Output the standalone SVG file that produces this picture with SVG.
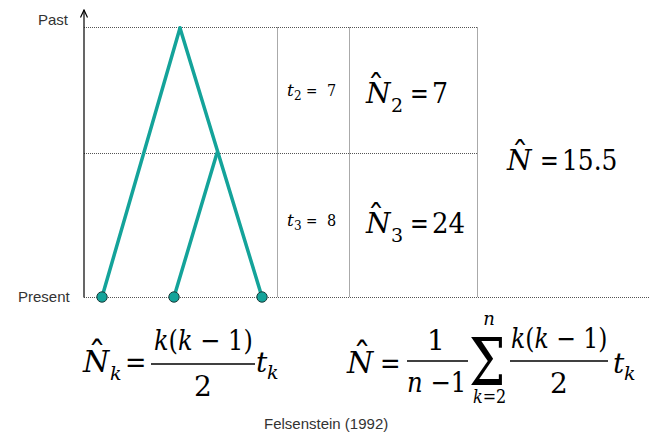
<svg xmlns="http://www.w3.org/2000/svg" width="650" height="435" viewBox="0 0 650 435">
<style>
.sans{font-family:"Liberation Sans",Arial,sans-serif;fill:#333;}
.i{font-style:italic;}
.grid{stroke:#555;stroke-width:1;stroke-dasharray:1 1;fill:none;}
.branch{stroke:#14a39a;stroke-width:3.5;stroke-linecap:round;fill:none;}
.leaf{fill:#14a39a;stroke:#1c3d3b;stroke-width:1;}
.bar{stroke:#000;stroke-width:1.3;}
</style>
<defs>
<marker id="arr" markerWidth="10" markerHeight="10" refX="9" refY="5" orient="auto" markerUnits="userSpaceOnUse" viewBox="0 0 10 10">
<path d="M1.5,1.5 L9,5 L1.5,8.5" fill="none" stroke="#000" stroke-width="1.2"/>
</marker>
</defs>
<rect width="650" height="435" fill="#fff"/>

<g id="grid">
<line class="grid" x1="84" y1="27.5" x2="477.5" y2="27.5"/>
<line class="grid" x1="84" y1="153.5" x2="477.5" y2="153.5"/>
<line class="grid" x1="84" y1="297.5" x2="650" y2="297.5"/>
<line class="grid" x1="277.5" y1="27.5" x2="277.5" y2="297.5"/>
<line class="grid" x1="349.5" y1="27.5" x2="349.5" y2="297.5"/>
<line class="grid" x1="477.5" y1="27.5" x2="477.5" y2="297.5"/>
</g>

<g id="axis">
<line x1="84" y1="297.5" x2="84" y2="10" stroke="#000" stroke-width="1.2" marker-end="url(#arr)"/>
<text class="sans" x="38" y="25" font-size="15">Past</text>
<text class="sans" x="18" y="302" font-size="15">Present</text>
</g>

<g id="connectors">
<line class="branch" x1="180" y1="28" x2="102" y2="297"/>
<line class="branch" x1="180" y1="28" x2="262" y2="297"/>
<line class="branch" x1="217" y1="153" x2="174" y2="297"/>
</g>

<g id="leaf1"><circle class="leaf" cx="102" cy="297" r="5.2"/></g>
<g id="leaf2"><circle class="leaf" cx="174" cy="297" r="5.2"/></g>
<g id="leaf3"><circle class="leaf" cx="262" cy="297" r="5.2"/></g>

<g font-family="DejaVu Serif, serif" fill="#000">
<g id="t2">
<text class="i" x="287" y="96" font-size="17">t</text>
<text x="294" y="100" font-size="12">2</text>
<text transform="translate(306,96) scale(0.8,1)" font-size="17">=</text>
<text transform="translate(327,96) scale(0.85,1)" font-size="17">7</text>
</g>
<g id="t3">
<text class="i" x="287" y="226" font-size="17">t</text>
<text x="294" y="230" font-size="12">3</text>
<text transform="translate(306,226) scale(0.8,1)" font-size="17">=</text>
<text transform="translate(327,226) scale(0.85,1)" font-size="17">8</text>
</g>

<g id="N2">
<text class="i" x="366" y="103" font-size="28">N</text>
<text x="376" y="99" font-size="34" text-anchor="middle">ˆ</text>
<text x="391" y="112" font-size="19">2</text>
<text transform="translate(410,103) scale(0.8,1)" font-size="28">=</text>
<text transform="translate(432,103) scale(0.9,1)" font-size="28">7</text>
</g>
<g id="N3">
<text class="i" x="366" y="233" font-size="28">N</text>
<text x="376" y="229" font-size="34" text-anchor="middle">ˆ</text>
<text x="391" y="242" font-size="19">3</text>
<text transform="translate(410,233) scale(0.8,1)" font-size="28">=</text>
<text transform="translate(432,233) scale(0.93,1)" font-size="28">24</text>
</g>
<g id="Nall">
<text class="i" x="507" y="170" font-size="28">N</text>
<text x="520" y="166" font-size="34" text-anchor="middle">ˆ</text>
<text transform="translate(540,170) scale(0.8,1)" font-size="28">=</text>
<text transform="translate(562,170) scale(0.89,1)" font-size="28">15.5</text>
</g>

<g id="formula-left">
<text class="i" x="83" y="372" font-size="30">N</text>
<text x="97" y="367" font-size="36" text-anchor="middle">ˆ</text>
<text class="i" x="110" y="380" font-size="19">k</text>
<text transform="translate(125,372) scale(0.85,1)" font-size="30">=</text>
<text transform="translate(154,350) scale(0.86,1)" font-size="28"><tspan class="i">k</tspan>(<tspan class="i">k</tspan> − 1)</text>
<line class="bar" x1="151" y1="364" x2="255" y2="364"/>
<text x="203" y="396" font-size="28" text-anchor="middle">2</text>
<text class="i" x="256" y="372" font-size="28">t</text>
<text class="i" x="267" y="379" font-size="19">k</text>
</g>

<g id="formula-right">
<text class="i" x="347" y="373" font-size="30">N</text>
<text x="362" y="368" font-size="36" text-anchor="middle">ˆ</text>
<text transform="translate(380,373) scale(0.82,1)" font-size="30">=</text>
<text x="436" y="350" font-size="28" text-anchor="middle">1</text>
<line class="bar" x1="407" y1="361" x2="468" y2="361"/>
<text transform="translate(407,392) scale(0.87,1)" font-size="28"><tspan class="i">n</tspan> −1</text>
<text transform="translate(469,385) scale(0.78,1)" font-size="66">Σ</text>
<text class="i" x="489" y="325" font-size="18" text-anchor="middle">n</text>
<text transform="translate(473,403) scale(0.89,1)" font-size="18"><tspan class="i">k</tspan>=2</text>
<text transform="translate(511,348) scale(0.84,1)" font-size="28"><tspan class="i">k</tspan>(<tspan class="i">k</tspan> − 1)</text>
<line class="bar" x1="510" y1="361" x2="608" y2="361"/>
<text x="559" y="393" font-size="28" text-anchor="middle">2</text>
<text class="i" x="613" y="373" font-size="28">t</text>
<text class="i" x="624" y="380" font-size="19">k</text>
</g>
</g>

<g id="citation">
<text class="sans" x="264" y="429" font-size="15">Felsenstein (1992)</text>
</g>
</svg>
